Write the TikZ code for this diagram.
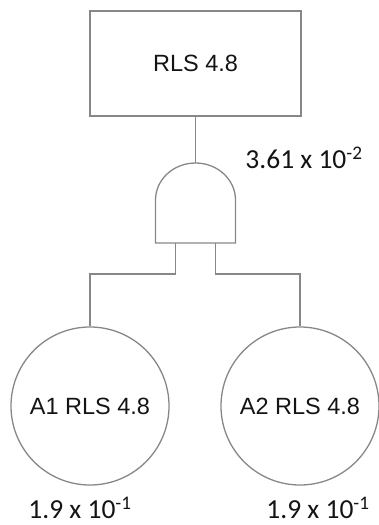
\documentclass[tikz,border=0pt]{standalone}
\usepackage{fontspec}
\setmainfont{Liberation Sans}
\newfontfamily\numfont{Carlito}
\usepackage{tikz}
\usetikzlibrary{positioning, calc}
\definecolor{linegray}{RGB}{135,135,135}
\definecolor{textgray}{RGB}{20,20,20}

\begin{document}
\begin{tikzpicture}[x=1pt, y=-1pt,
    wire/.style={draw=linegray, line width=1.3pt},
    label/.style={font=\fontsize{23.5}{28}\selectfont, text=textgray},
    event/.style={circle, wire, label, minimum size=158pt, inner sep=0pt},
    prob/.style={font=\numfont\fontsize{27.5}{32}\selectfont, text=textgray}]
    \useasboundingbox (0,0) rectangle (379,525);

    \node[rectangle, wire, label, minimum width=211pt, minimum height=105pt] (top) at (195.5,63.5) {RLS 4.8};

    % AND gate
    \draw[wire] (155.5,243) -- (155.5,200) arc[start angle=180, end angle=360, x radius=40, y radius=37] -- (235.5,243) -- cycle;
    \coordinate (gate) at (195.5,163);
    \coordinate (in1) at (175.5,243);
    \coordinate (in2) at (215.5,243);

    \node[event] (a1) at (90,406) {A1 RLS 4.8};
    \node[event] (a2) at (300,406) {A2 RLS 4.8};

    \draw[wire] (top.south) -- (gate);
    \draw[wire] (in1) -- ++(0,31) -| (a1.north);
    \draw[wire] (in2) -- ++(0,31) -| (a2.north);

    \node[prob] (ptop) at (304,158) {3.61 x 10\textsuperscript{-2}};
    \node[prob] (pa1) at (80,508) {1.9 x 10\textsuperscript{-1}};
    \node[prob] (pa2) at (318,508) {1.9 x 10\textsuperscript{-1}};
\end{tikzpicture}
\end{document}
